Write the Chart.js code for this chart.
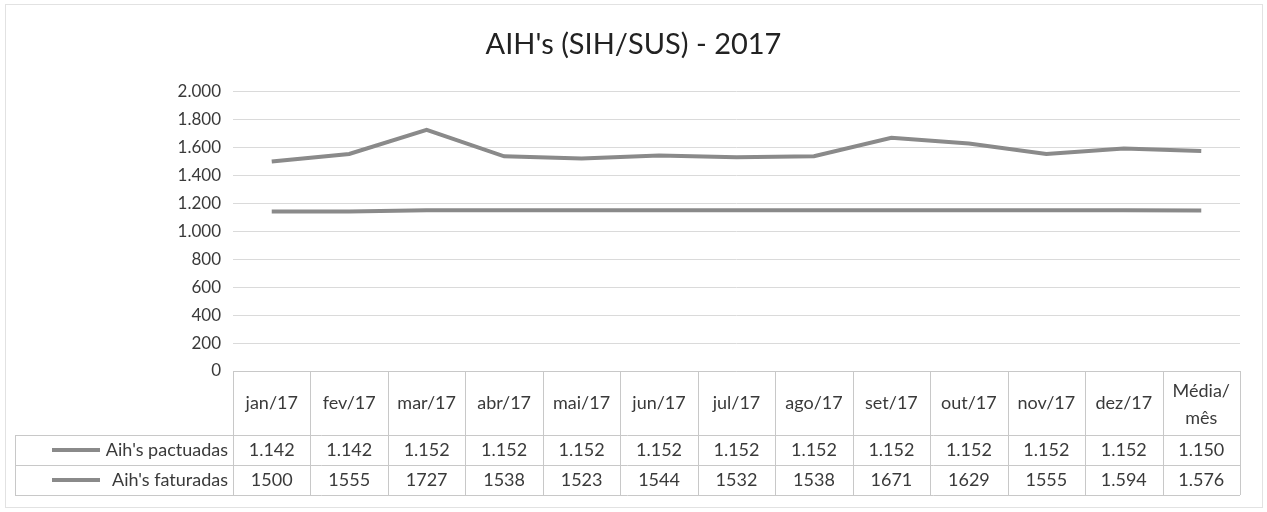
<!DOCTYPE html>
<html lang="pt-BR">
<head>
<meta charset="utf-8">
<title>AIH's (SIH/SUS) - 2017</title>
<script src="https://cdn.jsdelivr.net/npm/chart.js@4.4.1/dist/chart.umd.min.js"></script>
<style>
    html, body { margin: 0; padding: 0; background: #fff; }
    #wrap { position: relative; width: 1267px; height: 512px; }
</style>
</head>
<body>
<div id="wrap"><canvas id="aihChart" width="1267" height="512"></canvas></div>
<script>
const meses = ['jan/17', 'fev/17', 'mar/17', 'abr/17', 'mai/17', 'jun/17', 'jul/17',
    'ago/17', 'set/17', 'out/17', 'nov/17', 'dez/17', ['Média/', 'mês']];
const pactuadas = [1142, 1142, 1152, 1152, 1152, 1152, 1152, 1152, 1152, 1152, 1152, 1152, 1150];
const faturadas = [1500, 1555, 1727, 1538, 1523, 1544, 1532, 1538, 1671, 1629, 1555, 1594, 1576];
// a planilha mostra parte da linha sem separador de milhar
const faturadasTexto = ['1500', '1555', '1727', '1538', '1523', '1544', '1532', '1538', '1671', '1629', '1555', '1.594', '1.576'];
const yTicks = [0, 200, 400, 600, 800, 1000, 1200, 1400, 1600, 1800, 2000];

const FONT = 'Lato, "Open Sans", sans-serif';
const LINE_GRAY = '#8a8a8a';
const TEXT = '#3a3a3a';
const BORDER = '#c8c8c8';

const milhar = (v) => String(v).replace(/\B(?=(\d{3})+(?!\d))/g, '.');

const pactuadasTexto = pactuadas.map(milhar);

const linhas = [
    { label: "Aih's pactuadas", textos: pactuadasTexto },
    { label: "Aih's faturadas", textos: faturadasTexto },
];

// moldura clara da área do gráfico
const molduraPlugin = {
    id: 'moldura',
    beforeDraw(chart) {
        const { ctx } = chart;
        ctx.save();
        ctx.strokeStyle = '#e2e2e2';
        ctx.lineWidth = 1;
        ctx.strokeRect(5.5, 4.5, 1257, 503);
        ctx.restore();
    }
};

// desenha a tabela de dados sob o eixo, no estilo do Excel
const tabelaPlugin = {
    id: 'tabelaDados',
    afterDraw(chart) {
        const { ctx, chartArea, scales: { x } } = chart;
        const colW = (chartArea.right - chartArea.left) / meses.length;
        const top = chartArea.bottom;
        const headH = 64, rowH = 30;
        const legendLeft = 15;
        const bottom = top + headH + rowH * 2;

        ctx.save();
        ctx.strokeStyle = BORDER;
        ctx.lineWidth = 1;

        // linhas horizontais
        ctx.beginPath();
        ctx.moveTo(chartArea.left, top + 0.5);
        ctx.lineTo(chartArea.right, top + 0.5);
        for (let r = 0; r <= 2; r++) {
            const yy = Math.round(top + headH + rowH * r) + 0.5;
            ctx.moveTo(legendLeft, yy);
            ctx.lineTo(chartArea.right, yy);
        }
        // linhas verticais
        for (let c = 0; c <= meses.length; c++) {
            const xx = Math.round(chartArea.left + colW * c) + 0.5;
            ctx.moveTo(xx, top);
            ctx.lineTo(xx, bottom);
        }
        ctx.moveTo(legendLeft + 0.5, top + headH);
        ctx.lineTo(legendLeft + 0.5, bottom);
        ctx.stroke();

        ctx.fillStyle = TEXT;
        ctx.font = '18px ' + FONT;
        ctx.textAlign = 'center';
        ctx.textBaseline = 'middle';

        meses.forEach((m, i) => {
            const cx = x.getPixelForValue(i);
            if (Array.isArray(m)) {
                ctx.fillText(m[0], cx, top + 20);
                ctx.fillText(m[1], cx, top + 47);
            } else {
                ctx.fillText(m, cx, top + 32);
            }
        });

        linhas.forEach((ln, r) => {
            const cy = top + headH + rowH * r + rowH / 2;
            ln.textos.forEach((t, i) => {
                ctx.fillText(t, x.getPixelForValue(i), cy);
            });
            ctx.textAlign = 'right';
            ctx.fillText(ln.label, chartArea.left - 5, cy);
            ctx.textAlign = 'center';
            ctx.strokeStyle = LINE_GRAY;
            ctx.lineWidth = 4;
            ctx.beginPath();
            ctx.moveTo(52, cy);
            ctx.lineTo(100, cy);
            ctx.stroke();
        });
        ctx.restore();
    }
};

new Chart(document.getElementById('aihChart').getContext('2d'), {
    type: 'line',
    data: {
        labels: meses,
        datasets: [
            { label: "Aih's pactuadas", data: pactuadas, borderColor: LINE_GRAY, borderWidth: 4, pointRadius: 0, tension: 0 },
            { label: "Aih's faturadas", data: faturadas, borderColor: LINE_GRAY, borderWidth: 4, pointRadius: 0, tension: 0 },
        ],
    },
    options: {
        responsive: false,
        animation: false,
        // padding simétrico deixa o título centrado na largura toda
        layout: { padding: { left: 27, right: 27, top: 0, bottom: 141 } },
        plugins: {
            legend: { display: false },
            tooltip: { enabled: false },
            title: {
                display: true,
                text: "AIH's (SIH/SUS) - 2017",
                color: '#222222',
                font: { family: FONT, size: 29, weight: 'normal' },
                padding: { top: 27, bottom: 30 },
            },
        },
        scales: {
            x: {
                offset: true,
                ticks: { display: false },
                grid: { display: false, drawTicks: false },
                border: { display: false },
            },
            y: {
                min: 0,
                max: 2000,
                afterBuildTicks: (scale) => { scale.ticks = yTicks.map((v) => ({ value: v })); },
                afterFit: (scale) => { scale.width = 206; },
                ticks: {
                    color: TEXT,
                    font: { family: FONT, size: 17 },
                    padding: 12,
                    callback: (v) => milhar(v),
                },
                grid: { color: '#dadada', drawTicks: false },
                border: { display: false },
            },
        },
    },
    plugins: [molduraPlugin, tabelaPlugin],
});
</script>
</body>
</html>
